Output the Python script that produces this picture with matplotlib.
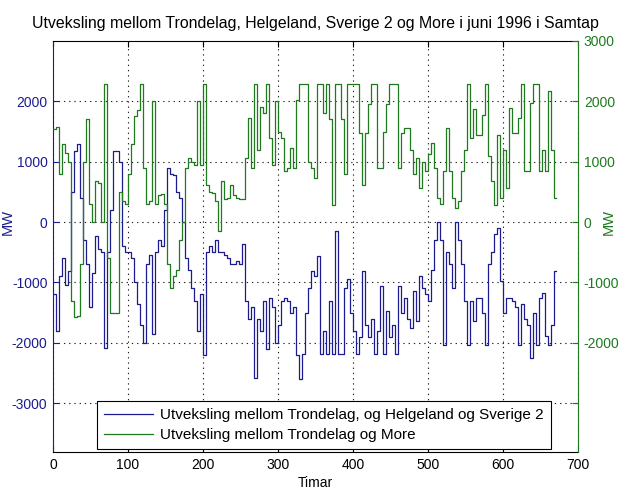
import numpy as np
import matplotlib.pyplot as plt

# hourly exchange in June 1996, one value per 4-hour block (MW)
hours = np.arange(0, 672, 4)

# Trondelag <-> Helgeland + Sverige 2
helgeland_sverige = [
    -1200, -1800, -900, -600, -1050, -810, 500, 1180, 1300, 400,
    -300, -700, -1400, -850, -230, -450, -500, -2080, -500, 200,
    1180, 1180, 1000, -400, -500, -500, -600, -1000, -1350, -1700,
    -2000, -700, -540, -1860, -500, -300, -400, 200, 900, 800,
    780, 500, 400, 0, -600, -800, -1100, -1300, -1800, -1200,
    -2200, -500, -400, -500, -300, -500, -500, -550, -600, -700,
    -700, -650, -700, -370, -1300, -1600, -1400, -2580, -1600, -1800,
    -1300, -2100, -1250, -1400, -2000, -1700, -1300, -1250, -1300, -1500,
    -1400, -2200, -2600, -2190, -1500, -1100, -810, -900, -560, -2190,
    -1800, -2190, -1300, -2190, -150, -2190, -2190, -1100, -950, -1500,
    -1800, -2190, -1900, -810, -1700, -1900, -1600, -2190, -1800, -1060,
    -2190, -1470, -1900, -1700, -2190, -1060, -1500, -1250, -1600, -1750,
    -1140, -1640, -900, -1100, -1200, -1300, -800, -300, 0, -300,
    -2030, -500, -700, -1100, 0, -300, -700, -1300, -2030, -1310,
    -1640, -1250, -1250, -1500, -2030, -700, -500, -200, -100, -980,
    -1500, -1250, -1250, -1300, -1400, -2030, -1360, -1600, -1700, -2250,
    -1500, -2030, -1250, -1170, -1880, -2030, -1700, -810,
]

# Trondelag <-> More
more = [
    1550, 1580, 800, 1300, 1150, 1000, -1300, -1580, -1550, -700,
    1000, 1700, 300, 0, 680, 650, 0, 2280, -600, -1500,
    -1500, -1500, 500, 350, 300, 800, 1290, 1750, 1850, 2280,
    900, 300, 350, 2000, 300, 450, 460, 300, -700, -1090,
    -900, -800, -300, 0, 900, 1060, 1000, 950, 2000, 950,
    2280, 620, 500, 480, 350, -150, 680, 380, 400, 620,
    450, 400, 380, 380, 1060, 1730, 900, 2280, 1200, 1900,
    1800, 2280, 1400, 950, 2000, 1500, 1400, 850, 900, 1230,
    900, 2030, 2280, 2280, 2280, 1000, 900, 730, 2280, 2280,
    1800, 2280, 1700, 290, 2280, 2280, 1700, 790, 2280, 2280,
    2280, 2280, 1480, 620, 1480, 1950, 2280, 2280, 900, 900,
    1500, 1950, 2280, 2280, 2280, 900, 1480, 1560, 1560, 1200,
    790, 1060, 570, 1000, 850, 1120, 1310, 900, 400, 300,
    850, 1560, 850, 400, 240, 350, 850, 1200, 2280, 1400,
    1870, 1450, 1450, 1780, 2280, 1100, 680, 290, 1450, 400,
    1200, 570, 1890, 1480, 1480, 1730, 2280, 850, 850, 1980,
    2280, 2280, 850, 1200, 850, 2170, 1200, 400,
]

last_hour = 671
blue = '#1c1c90'
green = '#1f7a1f'

plt.rcParams['font.family'] = ['Liberation Sans', 'DejaVu Sans']
plt.rcParams['axes.unicode_minus'] = False

fig = plt.figure(figsize=(6.19, 4.91), dpi=100)
ax = fig.add_axes([0.0856, 0.0794, 0.8485, 0.8371])
ax2 = ax.twinx()

x = np.append(hours, last_hour)
y1 = np.append(helgeland_sverige, helgeland_sverige[-1])
y2 = np.append(more, more[-1])

l1, = ax.plot(x, y1, color=blue, lw=0.9, drawstyle='steps-post',
              label='Utveksling mellom Trondelag, og Helgeland og Sverige 2')
l2, = ax2.plot(x, y2, color=green, lw=0.9, drawstyle='steps-post',
               label='Utveksling mellom Trondelag og More')

ylim = (-3810, 3000)
for a in (ax, ax2):
    a.set_xlim(0, 700)
    a.set_ylim(*ylim)
    a.tick_params(direction='in', length=4, labelsize=10, pad=4)

ax.set_xticks(np.arange(0, 701, 100))
ax.set_yticks(np.arange(-3000, 2001, 1000))
ax2.set_yticks(np.arange(-3000, 3001, 1000))
ax2.set_yticklabels([''] + [str(v) for v in range(-2000, 3001, 1000)])
ax.tick_params(axis='x', top=True, colors='black')
ax.tick_params(axis='y', colors=blue)
ax2.tick_params(axis='y', colors=green)

ax.grid(True, color='#222222', linestyle=(0, (1.2, 3.5)), linewidth=0.8)

ax.spines['left'].set_color(blue)
ax2.spines['left'].set_visible(False)
ax2.spines['right'].set_color(green)
ax.spines['right'].set_visible(False)
for s in ('top', 'bottom'):
    ax2.spines[s].set_visible(False)
    ax.spines[s].set_color('black')

ax.set_xlabel('Timar', fontsize=10, labelpad=3)
ax.set_ylabel('MW', fontsize=10.5, color=blue)
ax.yaxis.set_label_coords(-0.072, 0.56)
ax2.set_ylabel('MW', fontsize=10.5, color=green, rotation=90)
ax2.yaxis.set_label_coords(1.045, 0.56)

ax.set_title('Utveksling mellom Trondelag, Helgeland, Sverige 2 og More i juni 1996 i Samtap',
             fontsize=11.4, pad=9)

leg = ax2.legend(handles=[l1, l2], loc='lower left', bbox_to_anchor=(0.078, 0.0),
                 fontsize=11, frameon=True, fancybox=False, framealpha=1,
                 edgecolor='black', borderpad=0.45, handlelength=3.2,
                 handletextpad=0.5, labelspacing=0.4, borderaxespad=0.2)
leg.get_frame().set_linewidth(0.8)

fig.savefig('out.png', dpi=100)
